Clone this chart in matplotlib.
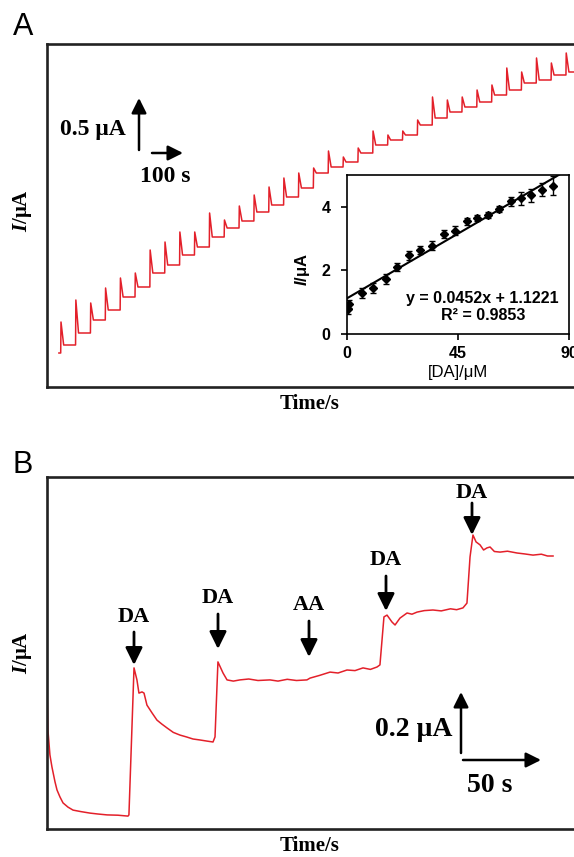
import numpy as np
import matplotlib
matplotlib.use("Agg")
import matplotlib.pyplot as plt
from matplotlib.patches import FancyArrowPatch

plt.rcParams['mathtext.fontset'] = 'custom'
plt.rcParams['mathtext.it'] = 'Liberation Serif:italic:bold'
plt.rcParams['mathtext.sf'] = 'Liberation Sans:italic:bold'
plt.rcParams['mathtext.rm'] = 'Liberation Serif'

# ---------------- data ----------------
# Panel A: successive additions every 50 s
A_add_times = [50 * k for k in range(1, 36)]
A_start_time = 44
A_start_current = 0.34
A_peak_current = [0.65, 0.87, 0.84, 0.99, 1.09, 1.14, 1.37, 1.45, 1.55, 1.55,
                  1.74, 1.67, 1.81, 1.92, 2.00, 2.09, 2.14, 2.19, 2.36, 2.30,
                  2.39, 2.56, 2.52, 2.56, 2.67, 2.90, 2.87, 2.90, 2.97, 3.02,
                  3.19, 3.15, 3.29, 3.24, 3.34]
A_step_current = [0.42, 0.54, 0.67, 0.77, 0.90, 1.00, 1.14, 1.22, 1.32, 1.40,
                  1.50, 1.59, 1.66, 1.75, 1.82, 1.90, 1.99, 2.14, 2.20, 2.25,
                  2.34, 2.42, 2.47, 2.52, 2.62, 2.69, 2.75, 2.80, 2.85, 2.92,
                  2.97, 3.04, 3.07, 3.12, 3.15]

# Inset: calibration
inset_conc = [0.5, 1.0, 5.9, 10.6, 15.8, 20.2, 25.3, 29.7, 34.4, 39.2,
              43.7, 48.7, 52.8, 57.2, 61.7, 66.4, 70.5, 74.6, 79.0, 83.5]
inset_current = [0.78, 0.95, 1.29, 1.45, 1.73, 2.10, 2.47, 2.65, 2.78, 3.15,
                 3.25, 3.54, 3.64, 3.75, 3.93, 4.17, 4.27, 4.36, 4.54, 4.66]
inset_err = [0.15, 0.12, 0.15, 0.15, 0.15, 0.12, 0.15, 0.12, 0.15, 0.12,
             0.15, 0.12, 0.10, 0.10, 0.10, 0.15, 0.20, 0.20, 0.20, 0.30]
fit_slope = 0.0452
fit_intercept = 1.1221

# Panel B: interference trace
B_time = [0.0, 0.6, 1.9, 3.2, 5.2, 6.5, 8.4, 10.4, 13.6, 16.9, 22.0, 27.9, 33.0, 39.0, 46.0, 52.6,
          53.2, 56.5, 58.4, 59.7, 61.7, 63.0, 64.9, 68.2, 71.4, 74.5, 77.9, 82.0, 86.4, 90.5, 94.8, 99.0, 103.9, 107.8,
          109.1, 111.0, 114.3, 116.9, 121.0, 125.3, 131.0, 137.0, 144.8, 150.0, 156.0, 162.0, 168.8,
          170.8, 177.0, 183.8, 189.0, 194.8, 200.0, 205.2, 210.0, 214.3,
          216.2, 218.8, 220.8, 224.0, 226.0, 229.2, 233.8, 237.0, 240.3, 245.0, 250.6, 256.0, 262.0, 266.0, 270.1,
          272.7, 274.7, 276.6, 278.6, 281.2, 283.5, 285.7, 287.7, 290.5, 294.2, 299.0, 305.2, 310.0, 315.6, 321.0, 325.0, 328.6]
B_current = [0.473, 0.330, 0.247, 0.207, 0.157, 0.130, 0.107, 0.087, 0.073, 0.063, 0.058, 0.053, 0.050, 0.047, 0.046, 0.043,
             0.047, 0.537, 0.497, 0.453, 0.457, 0.453, 0.413, 0.387, 0.363, 0.350, 0.337, 0.322, 0.313, 0.307, 0.300, 0.297, 0.293, 0.290,
             0.307, 0.557, 0.520, 0.497, 0.493, 0.497, 0.500, 0.495, 0.497, 0.493, 0.499, 0.495, 0.497,
             0.503, 0.512, 0.523, 0.520, 0.530, 0.528, 0.537, 0.532, 0.540,
             0.547, 0.707, 0.713, 0.690, 0.680, 0.703, 0.720, 0.716, 0.723, 0.728, 0.730, 0.727, 0.734, 0.731, 0.737,
             0.753, 0.907, 0.980, 0.957, 0.947, 0.930, 0.937, 0.940, 0.925, 0.923, 0.926, 0.920, 0.917, 0.913, 0.916, 0.910, 0.910]

# ---------------- figure ----------------
W, H = 574, 857
fig = plt.figure(figsize=(W / 100, H / 100), dpi=100)

def fx(x):
    return x / W

def fy(y):
    return 1 - y / H

SERIF = 'Liberation Serif'
SANS = 'Liberation Sans'
RED = '#e3202a'

def arrow(x0, y0, x1, y1, hl=0.6, hw=0.3, ms=15, lw=1.8):
    a = FancyArrowPatch(posA=(fx(x0), fy(y0)), posB=(fx(x1), fy(y1)),
                        transform=fig.transFigure,
                        arrowstyle=f'-|>,head_length={hl},head_width={hw}',
                        mutation_scale=ms, lw=lw, color='black',
                        shrinkA=0, shrinkB=0, zorder=10)
    fig.add_artist(a)

def label(x, y, s, size, family=SERIF, weight='bold', **kw):
    fig.text(fx(x), fy(y), s, fontsize=size, family=family, fontweight=weight,
             ha='center', va='center', **kw)

# ---- Panel A ----
pxs_A = 0.2972  # px per second
axA = fig.add_axes([fx(47), fy(387), 553 / W, 343 / H])
t0 = 50 - (60.7 - 47) / pxs_A
axA.set_xlim(t0, t0 + 553 / pxs_A)
axA.set_ylim(0, 3.43)
axA.set_xticks([])
axA.set_yticks([])
for s in axA.spines.values():
    s.set_linewidth(1.9)
    s.set_color('#222222')

tA = [A_start_time]
iA = [A_start_current]
prev = A_start_current
for tk, pk, bk in zip(A_add_times, A_peak_current, A_step_current):
    tA += [tk, tk + 1, tk + 10]
    iA += [prev, pk, bk]
    prev = bk
tA.append(A_add_times[-1] + 60)
iA.append(prev)
axA.plot(tA, iA, color=RED, lw=1.1)

# Inset
axI = fig.add_axes([fx(347), fy(334), 222 / W, 159 / H])
axI.set_facecolor('white')
axI.errorbar(inset_conc, inset_current, yerr=inset_err, fmt='D', color='black',
             ms=4.5, capsize=2.5, elinewidth=1.0, capthick=1.0)
xf = np.array([0, 86])
axI.plot(xf, fit_slope * xf + fit_intercept, color='black', lw=1.5)
axI.set_xlim(0, 90)
axI.set_ylim(0, 5)
axI.set_xticks([0, 45, 90])
axI.set_yticks([0, 2, 4])
axI.tick_params(direction='out', length=4, width=1.2, labelsize=11.5)
axI.tick_params(axis='x', pad=5)
axI.tick_params(axis='y', pad=8)
for lab in axI.get_xticklabels() + axI.get_yticklabels():
    lab.set_fontweight('bold')
    lab.set_family(SANS)
for s in axI.spines.values():
    s.set_linewidth(1.2)

label(482, 298, 'y = 0.0452x + 1.1221', 11.5, family=SANS)
label(483, 316, 'R² = 0.9853', 11.5, family=SANS)
label(458, 372, '[DA]/μM', 12, family=SANS, weight='normal')
label(302, 270, r'$\mathsf{I}$/μA', 12, family=SANS, rotation=90)

# Panel A decorations
label(23, 27, 'A', 22, family=SANS, weight='normal')
label(23, 211, r'$\mathit{I}$/μA', 15, rotation=90)
label(310, 404, 'Time/s', 15)
label(93, 130, '0.5 μA', 17)
label(165, 177, '100 s', 17)
arrow(139, 150, 139, 98)
arrow(152, 153, 183, 153)

# ---- Panel B ----
pxs_B = 1.54  # px per second
pxa_B = 300   # px per uA
axB = fig.add_axes([fx(47), fy(829), 553 / W, 352 / H])
axB.set_xlim(0, 553 / pxs_B)
axB.set_ylim(0, 352 / pxa_B)
axB.set_xticks([])
axB.set_yticks([])
for s in axB.spines.values():
    s.set_linewidth(1.9)
    s.set_color('#222222')
axB.plot(B_time, B_current, color=RED, lw=1.1)

label(23, 465, 'B', 22, family=SANS, weight='normal')
label(23, 653, r'$\mathit{I}$/μA', 15, rotation=90)
label(310, 846, 'Time/s', 15)

for (x, yt, ya0, ya1, s) in [(134, 617, 632, 665, 'DA'),
                              (218, 598, 614, 649, 'DA'),
                              (309, 605, 621, 657, 'AA'),
                              (386, 560, 576, 611, 'DA'),
                              (472, 493, 503, 535, 'DA')]:
    label(x, yt, s, 16)
    arrow(x, ya0, x, ya1, hl=0.65, hw=0.32, ms=16, lw=2.0)

label(414, 730, '0.2 μA', 20)
label(490, 785, '50 s', 20)
arrow(461, 753, 461, 692)
arrow(463, 760, 541, 760)

fig.savefig('out.png', dpi=100)
